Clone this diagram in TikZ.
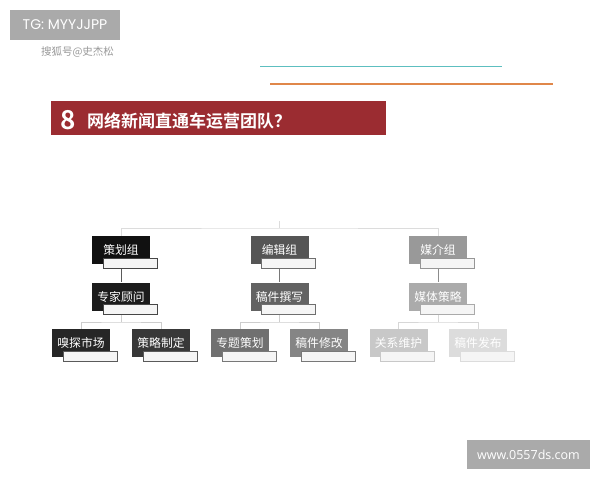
\documentclass[tikz,border=0pt]{standalone}
\usepackage{fontspec}
\setmainfont{Liberation Sans}
\newfontfamily\cjk{Noto Sans CJK SC}[BoldFont={Noto Sans CJK SC Bold}]
\newfontfamily\tgfont{Poppins}
\newfontfamily\wmfont{Open Sans}
\definecolor{titlered}{HTML}{9B2C31}
\definecolor{tealline}{HTML}{5DBFC0}
\definecolor{orangeline}{HTML}{E0874A}
\definecolor{wmgray}{HTML}{AAAAAA}
\definecolor{stripin}{HTML}{F5F5F5}
\definecolor{fa1}{HTML}{111111}
\definecolor{fa2}{HTML}{1C1C1C}
\definecolor{fa3}{HTML}{262626}
\definecolor{fa4}{HTML}{383838}
\definecolor{fb1}{HTML}{555555}
\definecolor{fb2}{HTML}{626262}
\definecolor{fb3}{HTML}{707070}
\definecolor{fb4}{HTML}{858585}
\definecolor{fc1}{HTML}{999999}
\definecolor{fc2}{HTML}{ABABAB}
\definecolor{fc3}{HTML}{C8C8C8}
\definecolor{fc4}{HTML}{DCDCDC}
\definecolor{ln1}{HTML}{DCDCDC}
\definecolor{ln2}{HTML}{CDCDCD}
\definecolor{ln3}{HTML}{D7D7D7}
\definecolor{va}{HTML}{5A5A5A}
\definecolor{vb}{HTML}{787878}
\definecolor{vc}{HTML}{8C8C8C}
\definecolor{sa}{HTML}{464646}
\definecolor{sb}{HTML}{5A5A5A}
\definecolor{sb2}{HTML}{6E6E6E}
\definecolor{sbb}{HTML}{787878}
\definecolor{sc}{HTML}{969696}
\definecolor{scc}{HTML}{AAAAAA}
\definecolor{sd}{HTML}{C8C8C8}
\definecolor{sdd}{HTML}{DCDCDC}
\begin{document}
\begin{tikzpicture}[x=1pt,y=-1pt,
  box/.style={rectangle, minimum width=58pt, minimum height=28pt, inner sep=0pt,
    text=white, font=\cjk\fontsize{11.8}{12}\selectfont},
  strip/.style={rectangle, minimum width=54pt, minimum height=10pt, inner sep=0pt,
    fill=stripin, draw=#1, line width=0.8pt},
  conn/.style={draw=#1, line width=0.8pt},
  tag/.style={rectangle, fill=wmgray, inner sep=0pt, text=white}
]
\useasboundingbox (0,0) rectangle (600,480);
\fill[white] (0,0) rectangle (600,480);

% header
\node[tag, minimum width=110pt, minimum height=30pt, font=\tgfont\fontsize{14}{16}\selectfont] (tg) at (65,25) {TG: MYYJJPP};
\node[text=gray!80, font=\cjk\fontsize{10.5}{12}\selectfont, inner sep=0pt] (sohu) at (77.5,52) {搜狐号@史杰松};
\coordinate (tl1) at (260,66.7);
\coordinate (tl2) at (502,66.7);
\coordinate (ol1) at (270,84);
\coordinate (ol2) at (553,84);
\draw[tealline, line width=1.4pt] (tl1) -- (tl2);
\draw[orangeline, line width=1.4pt] (ol1) -- (ol2);

% title bar
\node[rectangle, fill=titlered, minimum width=335pt, minimum height=34pt, inner sep=0pt] (bar) at (218.5,118) {};
\node[text=white, font=\cjk\bfseries\fontsize{26}{27}\selectfont, inner sep=0pt] (num) at (68,120) {8};
\node[text=white, font=\cjk\bfseries\fontsize{17}{18}\selectfont, inner sep=0pt, anchor=west] (title) at (87,121) {网络新闻直通车运营团队？};

% coordinates for connectors
\coordinate (top) at (279.5,228);
\coordinate (stub) at (279.5,221);
\coordinate (j1) at (121,322);
\coordinate (j2) at (279.5,322);
\coordinate (j3) at (438,322);

% boxes
\node[box, fill=fa1] (a1) at (121,250) {策划组};
\node[box, fill=fa2] (a2) at (121,296.5) {专家顾问};
\node[box, fill=fa3] (a3) at (81,343) {嗅探市场};
\node[box, fill=fa4] (a4) at (161,343) {策略制定};

\node[box, fill=fb1] (b1) at (279.5,250) {编辑组};
\node[box, fill=fb2] (b2) at (279.5,296.5) {稿件撰写};
\node[box, fill=fb3] (b3) at (240,343) {专题策划};
\node[box, fill=fb4] (b4) at (319,343) {稿件修改};

\node[box, fill=fc1] (c1) at (438,250) {媒介组};
\node[box, fill=fc2] (c2) at (438,296.5) {媒体策略};
\node[box, fill=fc3] (c3) at (398.5,343) {关系维护};
\node[box, fill=fc4] (c4) at (478,343) {稿件发布};

% connectors
\draw[conn=ln1] (a1.north) |- (top) -| (c1.north);
\draw[conn=ln1] (stub) -- (top);
\draw[conn=va] (a1.south) -- (a2.north);
\draw[conn=vb] (b1.south) -- (b2.north);
\draw[conn=vc] (c1.south) -- (c2.north);
\draw[conn=ln2] (a2.south) -- (j1);
\draw[conn=ln2] (a3.north) |- (j1) -| (a4.north);
\draw[conn=ln2] (b2.south) -- (j2);
\draw[conn=ln2] (b3.north) |- (j2) -| (b4.north);
\draw[conn=ln3] (c2.south) -- (j3);
\draw[conn=ln3] (c3.north) |- (j3) -| (c4.north);

% strips
\node[strip=sa] (sa1) at (130,263) {};
\node[strip=sa] (sa2) at (130,309.5) {};
\node[strip=sb] (sa3) at (90,356) {};
\node[strip=sb] (sa4) at (170,356) {};
\node[strip=sb2] (sb1) at (288.5,263) {};
\node[strip=sb2] (sb2) at (288.5,309.5) {};
\node[strip=sbb] (sb3) at (249,356) {};
\node[strip=sbb] (sb4) at (328,356) {};
\node[strip=sc] (sc1) at (447,263) {};
\node[strip=scc] (sc2) at (447,309.5) {};
\node[strip=sd] (sc3) at (407.5,356) {};
\node[strip=sdd] (sc4) at (487,356) {};

% watermark
\node[tag, minimum width=123pt, minimum height=29pt, font=\wmfont\fontsize{12.5}{14}\selectfont] (wm) at (528.5,454.5) {www.0557ds.com};
\end{tikzpicture}
\end{document}
